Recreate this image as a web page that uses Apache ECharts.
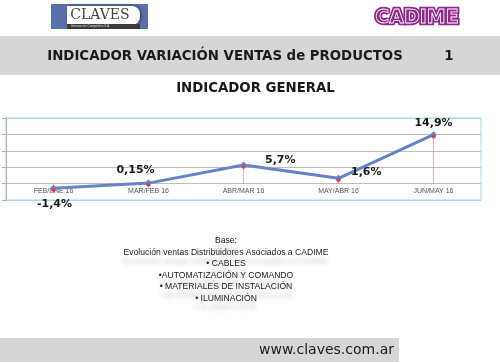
<!DOCTYPE html>
<html><head><meta charset="utf-8">
<script src="https://cdn.jsdelivr.net/npm/echarts@6/dist/echarts.min.js"></script>
<style>
html,body{margin:0;padding:0;background:#fff}
#wrap{position:relative;width:500px;height:364px}
#c{position:absolute;left:0;top:0;width:500px;height:364px}
#ghost{position:absolute;left:0;top:0;width:500px;height:364px;filter:blur(2.2px);opacity:0.45}
#ghost div{position:absolute;left:0;width:452px;text-align:center;font:8.6px "Liberation Sans";color:#888;line-height:11px}
</style>
</head><body><div id="wrap"><div id="ghost"></div><div id="c"></div></div>
<script>
const categories = ['FEB/ENE 16', 'MAR/FEB 16', 'ABR/MAR 16', 'MAY/ABR 16', 'JUN/MAY 16'];
const values = [-1.4, 0.15, 5.7, 1.6, 14.9];
const valueLabels = ['-1,4%', '0,15%', '5,7%', '1,6%', '14,9%'];
const baseLines = ['Base:', 'Evolución ventas Distribuidores Asociados a CADIME', '• CABLES', '•AUTOMATIZACIÓN Y COMANDO', '• MATERIALES DE INSTALACIÓN', '• ILUMINACIÓN'];

// blurred reflection of the base text (decorative)
const ghost = document.getElementById('ghost');
baseLines.forEach((t, i) => {
  const d = document.createElement('div');
  d.textContent = t;
  d.style.top = (244 + i * 11.5) + 'px';
  ghost.appendChild(d);
});

const labelStyles = [
  {position: 'bottom', distance: 7, offset: [1, 0]},
  {position: 'top', distance: 4, offset: [-13, 0]},
  {position: 'right', distance: 18, offset: [0, -5]},
  {position: 'right', distance: 9, offset: [0, -6]},
  {position: 'top', distance: 3, offset: [0, 0]}
];

const chart = echarts.init(document.getElementById('c'), null, {renderer: 'canvas'});
const lineData = values.map((v, i) => ({
  value: v,
  label: Object.assign({show: true, formatter: valueLabels[i]}, labelStyles[i])
}));
const dropLines = values.map((v, i) => [{coord: [categories[i], 0]}, {coord: [categories[i], v]}]);

const cadimeFont = '900 19px "DejaVu Sans"';
const titleFont = 'bold 14.8px "DejaVu Sans Condensed", "DejaVu Sans"';
const graphics = [
  {type: 'rect', shape: {x: 0, y: 36, width: 500, height: 39}, style: {fill: '#d6d6d6'}},
  {type: 'text', style: {text: 'INDICADOR VARIACIÓN VENTAS de PRODUCTOS', x: 225, y: 56, align: 'center', verticalAlign: 'middle', font: titleFont, fill: '#1a1a1a'}},
  {type: 'text', style: {text: '1', x: 449, y: 56, align: 'center', verticalAlign: 'middle', font: titleFont, fill: '#1a1a1a'}},
  {type: 'text', style: {text: 'INDICADOR GENERAL', x: 255.5, y: 88, align: 'center', verticalAlign: 'middle', font: titleFont, fill: '#1a1a1a'}},
  // CLAVES logo
  {type: 'rect', shape: {x: 51, y: 4, width: 97, height: 25}, style: {fill: '#5a6fa8'}},
  {type: 'rect', shape: {x: 67, y: 6, width: 73, height: 19, r: [0, 8, 8, 0]}, style: {fill: '#ffffff', shadowColor: 'rgba(0,0,0,0.5)', shadowBlur: 3, shadowOffsetX: 1}},
  {type: 'rect', shape: {x: 67, y: 24, width: 73, height: 5}, style: {fill: '#3a3a3a'}},
  {type: 'text', style: {text: 'CLAVES', x: 100, y: 15.5, align: 'center', verticalAlign: 'middle', font: '14px "DejaVu Serif", "Liberation Serif"', fill: '#444'}},
  {type: 'text', style: {text: 'Información Competitiva S.A.', x: 71, y: 26.5, align: 'left', verticalAlign: 'middle', font: '3px "Liberation Sans"', fill: '#ddd'}},
  // CADIME logo
  {type: 'text', style: {text: 'CADIME', x: 417, y: 18, align: 'center', verticalAlign: 'middle', font: cadimeFont, fill: '#8d2a8a', stroke: '#8d2a8a', lineWidth: 4.5}},
  {type: 'text', style: {text: 'CADIME', x: 417, y: 18, align: 'center', verticalAlign: 'middle', font: cadimeFont, fill: 'none', stroke: '#ffffff', lineWidth: 0.8}},
  // footer
  {type: 'rect', shape: {x: 0, y: 338, width: 399, height: 24}, style: {fill: '#d6d6d6'}},
  {type: 'text', style: {text: 'www.claves.com.ar', x: 394, y: 350, align: 'right', verticalAlign: 'middle', font: '14px "DejaVu Sans"', fill: '#1a1a1a'}}
];
baseLines.forEach((t, i) => {
  graphics.push({type: 'text', z: 2, style: {text: t, x: 226, y: 241 + i * 11.5, align: 'center', verticalAlign: 'middle', font: '8.6px "Liberation Sans"', fill: '#222'}});
});

chart.setOption({
  animation: false,
  backgroundColor: 'transparent',
  grid: {left: 6, right: 19, top: 118, bottom: 164, show: true, borderColor: '#a6d8ec', borderWidth: 1, backgroundColor: 'transparent'},
  xAxis: {
    type: 'category', data: categories, boundaryGap: true,
    axisLine: {onZero: false, show: false},
    offset: -16.4,
    axisTick: {show: false},
    axisLabel: {fontSize: 7, color: '#555', margin: 4, fontFamily: 'Liberation Sans'}
  },
  yAxis: {
    type: 'value', min: -5, max: 20, interval: 5,
    axisLine: {show: true, lineStyle: {color: '#b0b0b0'}},
    axisTick: {show: true, length: 4, lineStyle: {color: '#b0b0b0'}},
    axisLabel: {show: false},
    splitLine: {lineStyle: {color: ['#a6d8ec', '#bdbdbd', '#bdbdbd', '#bdbdbd', '#bdbdbd', '#a6d8ec'], width: 1}}
  },
  graphic: graphics,
  series: [
    {
      type: 'line', data: lineData, z: 3,
      symbol: 'diamond', symbolSize: 7,
      lineStyle: {color: '#6783c9', width: 3},
      itemStyle: {color: '#6783c9'},
      label: {fontSize: 11, fontWeight: 'bold', color: '#1a1a1a', fontFamily: 'DejaVu Sans'},
      markLine: {
        silent: true, symbol: 'none', label: {show: false},
        lineStyle: {color: '#e06060', type: 'dotted', width: 1},
        data: dropLines
      }
    },
    {
      type: 'scatter', data: values, z: 4,
      symbol: 'diamond', symbolSize: 5, symbolOffset: [0, 2],
      itemStyle: {color: '#d42a35'}
    }
  ]
});
</script></body></html>
